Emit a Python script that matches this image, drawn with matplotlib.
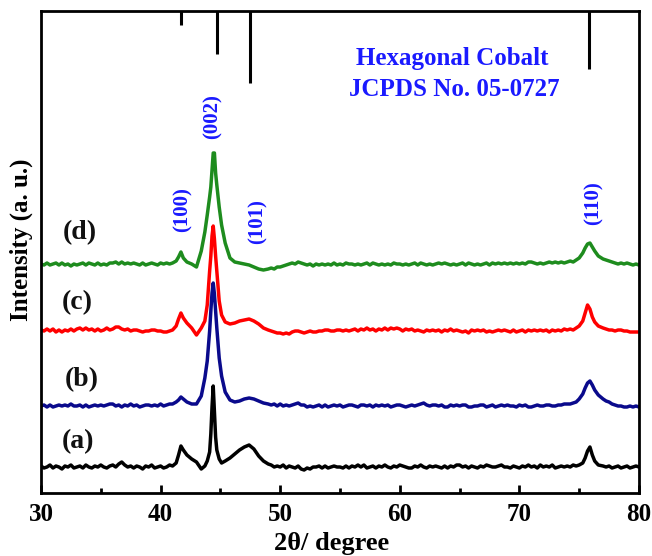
import matplotlib
matplotlib.use("Agg")
import matplotlib.pyplot as plt
from matplotlib.ticker import MultipleLocator, NullLocator

# 2theta grid (degrees)
two_theta = [30.0, 30.25, 30.5, 30.75, 31.0, 31.25, 31.5, 31.75, 32.0, 32.25, 32.5, 32.75,
             33.0, 33.25, 33.5, 33.75, 34.0, 34.25, 34.5, 34.75, 35.0, 35.25, 35.5, 35.75,
             36.0, 36.25, 36.5, 36.75, 37.0, 37.25, 37.5, 37.75, 38.0, 38.25, 38.5, 38.75,
             39.0, 39.25, 39.5, 39.75, 40.0, 40.25, 40.5, 40.75, 41.0,
             41.3, 41.5, 41.7, 41.9, 42.2, 42.6, 43.0, 43.4, 43.7, 43.9,
             44.1, 44.2, 44.3, 44.4, 44.5, 44.6, 44.7, 44.9,
             45.1, 45.4, 45.8, 46.2, 46.6, 47.0, 47.4, 47.8, 48.2, 48.6, 49.0,
             49.25, 49.5, 49.75,
             50.0, 50.25, 50.5, 50.75, 51.0, 51.25, 51.5, 51.75, 52.0, 52.25, 52.5, 52.75,
             53.0, 53.25, 53.5, 53.75, 54.0, 54.25, 54.5, 54.75, 55.0, 55.25, 55.5, 55.75,
             56.0, 56.25, 56.5, 56.75, 57.0, 57.25, 57.5, 57.75, 58.0, 58.25, 58.5, 58.75,
             59.0, 59.25, 59.5, 59.75, 60.0, 60.25, 60.5, 60.75, 61.0, 61.25, 61.5, 61.75,
             62.0, 62.25, 62.5, 62.75, 63.0, 63.25, 63.5, 63.75, 64.0, 64.25, 64.5, 64.75,
             65.0, 65.25, 65.5, 65.75, 66.0, 66.25, 66.5, 66.75, 67.0, 67.25, 67.5, 67.75,
             68.0, 68.25, 68.5, 68.75, 69.0, 69.25, 69.5, 69.75, 70.0, 70.25, 70.5, 70.75,
             71.0, 71.25, 71.5, 71.75, 72.0, 72.25, 72.5, 72.75, 73.0, 73.25, 73.5, 73.75,
             74.0, 74.25, 74.5, 74.75,
             75.0, 75.3, 75.5, 75.7, 75.9, 76.1, 76.3, 76.6, 77.0,
             77.25, 77.5, 77.75, 78.0, 78.25, 78.5, 78.75, 79.0, 79.25, 79.5, 79.75, 80.0]

int_a = [1, -1, 0, 2, -1, 1, 0, -2, 1, 0, 2, -1, 0, 1, -1, 2, 0, -1, 1, 0, 2, 0, -1, 1,
         2, 0, 3, 5, 2, 0, 1, -1, 1, 0, -2, 1, 0, 2, -1, 0, 1, -1, 0, 2, 1,
         4, 12, 21, 17, 12, 8, 5, -2, 1, 6,
         15, 33, 60, 81, 55, 30, 17, 8,
         4, 6, 9, 13, 17, 20, 22, 18, 11, 6, 3,
         2, 0, 1,
         0, 2, -1, 1, 0, -1, 1, -2, -3, -1, -2, 0, 0, 1, -1, 1, -1, 0, 1, 0, 0, -1, 1, -1,
         1, 0, 2, 0, 2, -1, 0, 1, -1, 1, 0, 2, 0, -1, 1, 0, 2, 1, 0, -1, -1, 1, 0, 2,
         0, -1, 1, 0, 1, 0, -1, 1, -1, 1, 0, 2, 2, 0, 1, -1, 1, 0, -1, 1, 0, 2, 1, 0,
         0, 1, 2, 0, 0, -1, 1, 0, -1, 1, 0, 2, 0, 1, -1, 2, 0, 1, 0, 2, -1, 0, 1, 0,
         1, 0, 2, 1,
         2, 4, 9, 16, 20, 12, 6, 2, 1,
         0, 1, -1, 0, 1, -1, 0, 1, -1, 0, 1, 0]

int_b = [0, 1, -1, 1, -1, 0, 1, 0, 1, 0, 2, 0, 0, 1, -1, 1, -1, 0, 1, 0, 1, 0, 1, 2,
         2, 0, 1, -1, 1, 0, 2, 0, 1, -1, 0, 1, 1, 0, 1, 0, 2, 0, 1, 2, 2,
         4, 6, 9, 7, 4, 2, 2, 10, 28, 45,
         75, 95, 113, 123, 112, 95, 78, 48,
         30, 14, 6, 4, 5, 7, 8, 7, 5, 3, 2,
         1, 2, 0,
         2, 0, 1, 0, 1, 2, 3, 1, 1, -1, 0, -1, 0, 1, -1, 1, -1, 0, 1, 0, 1, -1, 0, 1,
         1, 0, -1, 1, 1, 0, 1, -1, 1, 0, 1, 0, 1, -1, 0, 1, 1, 0, -1, 0, 1, 0, 1, 2,
         3, 1, 0, 1, 1, 0, 1, -1, -1, 1, 0, 1, 0, 1, 1, -1, -1, 0, 0, 1, 1, -1, 0, 1,
         -1, 0, 1, 0, 1, 0, 0, -1, 1, 0, 1, -1, -1, 0, 1, 0, 0, 1, 1, 0, 0, 1, 1, 2,
         2, 2, 3, 4,
         7, 12, 18, 23, 25, 21, 16, 11, 7,
         5, 4, 2, 1, 0, 0, -1, -1, 0, -1, 0, -1]

int_c = [1, 0, 2, 0, 2, -1, 1, -1, 1, 0, 2, 0, 2, 3, 1, 3, 1, 2, 0, 2, 0, 1, 3, 1,
         2, 4, 4, 2, 1, 2, 0, 1, 1, 0, -1, 0, 0, 1, 1, 0, 0, -1, -1, 0, 1,
         5, 12, 18, 13, 8, 3, -4, 3, 10, 26,
         60, 75, 95, 105, 92, 75, 60, 30,
         16, 9, 7, 8, 10, 11, 12, 10, 7, 3, 1,
         0, -1, -2,
         -2, -3, -2, -3, -1, 0, 0, -1, -2, -1, 0, -1, -1, 0, 0, 1, 1, 0, 0, 1, 1, 0, 1, 0,
         1, 2, 0, 2, 1, 3, 1, 2, 0, 2, 1, 3, 1, 3, 2, 3, 2, 0, 2, 1, 2, 0, 1, 0,
         -1, 1, 0, 1, 0, 1, -1, 1, 0, 2, 0, 1, 0, -1, 0, -2, 1, 0, 1, 0, 1, -1, 0, -1,
         0, 1, 0, 1, 0, -1, 1, -1, 0, 1, -1, 1, 0, 1, 0, 1, 0, 1, -1, 1, 0, 1, 0, 2,
         1, 2, 1, 3,
         5, 10, 18, 26, 22, 14, 9, 5, 3,
         2, 1, 1, 0, 1, 1, 0, 0, -1, -1, -1, -1]

int_d = [1, 0, 2, 0, 1, 2, 0, 2, 0, 1, -1, 1, 0, 1, 2, 0, 2, 1, 0, 2, 0, 1, 0, 2,
         2, 3, 1, 3, 1, 2, 1, 2, 1, 0, 2, 0, 1, 2, 1, 0, 2, 1, 2, 1, 2,
         4, 8, 13, 7, 3, 1, -2, 14, 33, 50,
         68, 78, 95, 112, 112, 92, 80, 58,
         40, 22, 7, 3, 2, 1, 0, -2, -4, -5, -4,
         -3, -4, -2,
         -2, -1, 0, 1, 2, 1, 3, 2, 1, 0, 1, -1, 1, 0, 1, 0, 1, 0, 2, 0, 1, 0, 2, 1,
         1, 0, 1, 0, 1, 2, 0, 2, 1, 0, 1, 0, 1, 0, 2, 1, 1, 0, 1, 0, 1, 2, 0, 2,
         1, 0, 1, 0, 1, 2, 1, 2, 1, 0, 1, 0, 1, 2, 0, 2, 1, 0, 1, 0, 1, 2, 0, 2,
         1, 2, 1, 2, 1, 2, 1, 2, 1, 2, 1, 3, 3, 2, 1, 2, 1, 2, 3, 2, 3, 2, 3, 2,
         3, 4, 3, 5,
         7, 12, 17, 21, 22, 18, 14, 9, 6,
         5, 4, 3, 2, 1, 2, 1, 2, 1, 0, 1, 0]

sample_labels = ["(a)", "(b)", "(c)", "(d)"]
series = [int_a, int_b, int_c, int_d]
colors = ["#000000", "#0a0a8c", "#ff0000", "#1e8c1e"]
offsets = [26, 87, 162, 228]
label_pos = [(33.1, 51), (33.4, 113), (33.0, 190), (33.25, 260)]

# reference pattern (JCPDS 05-0727)
ref_pos = [41.67, 44.75, 47.5, 75.85]
ref_int = [20, 60, 100, 80]

hkl_labels = ["(100)", "(002)", "(101)", "(110)"]
hkl_pos = [(41.83, 283), (44.33, 376), (48.08, 271), (76.17, 290)]

fig = plt.figure(figsize=(6.52, 5.56), dpi=100)
ax = fig.add_axes([0.0629, 0.1133, 0.9171, 0.8669])
font = "Liberation Serif"
ymax = 482

for yv, off, col in zip(series, offsets, colors):
    ax.plot(two_theta, [v + off for v in yv], color=col, lw=2.5, solid_joinstyle="round")

for (lx, ly), lab in zip(label_pos, sample_labels):
    ax.text(lx, ly, lab, fontsize=20, fontweight="bold", family=font,
            ha="center", va="center", color="#111111")

for p, i in zip(ref_pos, ref_int):
    ax.plot([p, p], [ymax, ymax - i * 0.72], color="black", lw=2.2, solid_capstyle="butt")

blue = "#1a1aff"
for (hx, hy), lab in zip(hkl_pos, hkl_labels):
    ax.text(hx, hy, lab, fontsize=15, fontweight="bold", family=font, color=blue,
            rotation=90, ha="center", va="center")

ax.text(64.4, ymax - 47, "Hexagonal Cobalt", fontsize=18, fontweight="bold",
        family=font, color=blue, ha="center", va="center")
ax.text(64.6, ymax - 78, "JCPDS No. 05-0727", fontsize=18, fontweight="bold",
        family=font, color=blue, ha="center", va="center")

ax.set_xlim(30, 80)
ax.set_ylim(0, ymax)
ax.xaxis.set_major_locator(MultipleLocator(10))
ax.xaxis.set_minor_locator(MultipleLocator(5))
ax.yaxis.set_major_locator(NullLocator())
ax.tick_params(axis="x", which="major", direction="in", length=6, width=2, pad=7,
               labelsize=18)
ax.tick_params(axis="x", which="minor", direction="in", length=3.5, width=2)
for lab in ax.get_xticklabels():
    lab.set_family(font)
    lab.set_fontweight("bold")
for s in ax.spines.values():
    s.set_linewidth(2)

ax.set_xlabel("2θ/ degree", fontsize=19, fontweight="bold", family=font)
ax.xaxis.set_label_coords(0.486, -0.104)
ax.xaxis.label.set_verticalalignment("center")
ax.set_ylabel("Intensity (a. u.)", fontsize=18, fontweight="bold", family=font)
ax.yaxis.set_label_coords(-0.033, 0.525)
ax.yaxis.label.set_verticalalignment("center")

fig.savefig("out.png", dpi=100)
